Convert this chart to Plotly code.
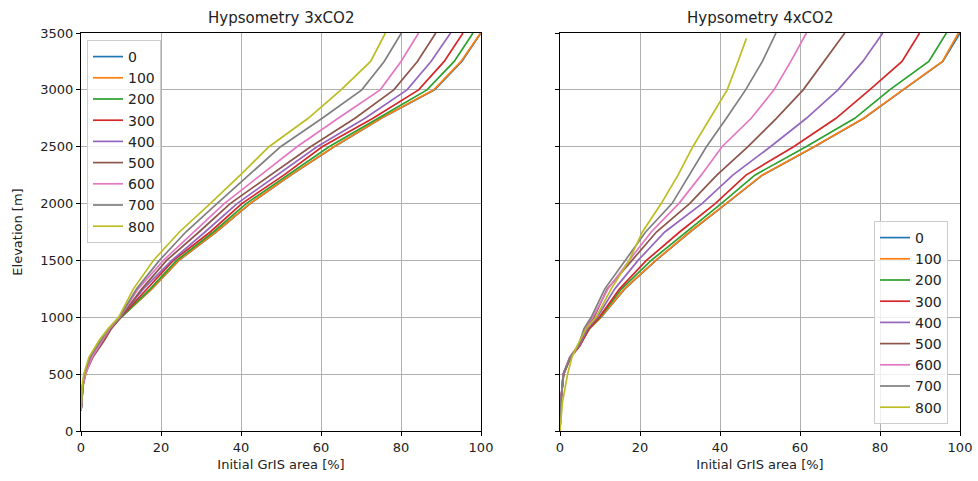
import plotly.graph_objects as go

# ---------------- data ----------------
series_names = ["0", "100", "200", "300", "400", "500", "600", "700", "800"]
colors = ["#1f77b4", "#ff7f0e", "#2ca02c", "#d62728", "#9467bd",
          "#8c564b", "#e377c2", "#7f7f7f", "#bcbd22"]

x_ticks = [0, 20, 40, 60, 80, 100]
y_ticks = [0, 500, 1000, 1500, 2000, 2500, 3000, 3500]

# Hypsometry 3xCO2 : elevation [m] vs cumulative initial GrIS area [%]
elev_3x = [180, 250, 400, 500, 650, 800, 900, 1000, 1250, 1500, 1750, 2000, 2250, 2500, 2750, 3000, 3250, 3500]
a3_0   = [0, 0.2, 0.5, 1.1, 2.4, 5.3, 7.3, 10.0, 17.7, 24.5, 33.8, 42.3, 52.5, 63.3, 75.1, 88.4, 95.2, 100.0]
a3_100 = [0, 0.2, 0.5, 1.2, 2.2, 5.3, 7.3, 10.0, 17.7, 24.4, 33.7, 42.2, 52.4, 63.2, 75.0, 88.2, 95.0, 99.9]
a3_200 = [0, 0.2, 0.4, 0.9, 2.5, 5.4, 7.4, 10.0, 17.3, 23.9, 33.1, 41.3, 51.5, 62.0, 74.3, 86.5, 93.3, 98.0]
a3_300 = [0, 0.2, 0.4, 0.9, 2.6, 5.5, 7.4, 9.9, 16.4, 23.1, 32.3, 40.2, 50.7, 60.3, 73.0, 84.4, 90.8, 95.5]
a3_400 = [0, 0.2, 0.4, 0.9, 2.5, 5.5, 7.3, 9.8, 15.6, 22.7, 31.0, 39.0, 49.0, 59.0, 71.0, 81.5, 87.5, 92.4]
a3_500 = [0, 0.2, 0.5, 1.0, 3.0, 5.9, 7.6, 9.9, 15.2, 21.4, 29.5, 37.3, 47.4, 57.4, 68.5, 78.2, 84.1, 88.7]
a3_600 = [0, 0.2, 0.5, 1.1, 2.8, 5.4, 7.2, 9.7, 14.3, 20.6, 28.1, 35.8, 44.9, 54.0, 64.3, 74.8, 80.0, 84.4]
a3_700 = [0, 0.2, 0.4, 0.8, 2.2, 4.9, 6.9, 9.6, 13.9, 19.6, 26.2, 34.0, 41.9, 49.9, 60.3, 70.2, 75.8, 80.1]
a3_800 = [0, 0.1, 0.3, 0.7, 2.0, 4.6, 6.8, 9.4, 13.1, 18.1, 24.6, 32.3, 39.8, 47.0, 56.8, 65.0, 72.4, 76.1]

# Hypsometry 4xCO2
elev_4x = [0, 100, 250, 500, 650, 750, 900, 1000, 1250, 1500, 1750, 2000, 2250, 2500, 2750, 3000, 3250, 3500]
a4_0   = [0, 0.05, 0.2, 0.9, 2.6, 4.8, 7.4, 10.3, 16.2, 24.0, 32.5, 41.6, 50.6, 63.6, 76.0, 85.8, 95.7, 100.0]
a4_100 = [0, 0.05, 0.2, 0.9, 2.6, 4.8, 7.4, 10.2, 16.1, 23.9, 32.4, 41.5, 50.5, 63.5, 75.9, 85.7, 95.6, 99.6]
a4_200 = [0, 0.05, 0.2, 0.9, 2.6, 4.8, 7.3, 10.0, 15.4, 22.8, 31.6, 40.3, 48.7, 61.5, 73.7, 82.4, 92.2, 96.6]
a4_300 = [0, 0.05, 0.2, 0.9, 2.7, 5.0, 7.2, 9.8, 14.9, 21.6, 29.9, 38.8, 46.5, 58.4, 69.0, 77.4, 85.5, 89.9]
a4_400 = [0, 0.05, 0.2, 0.8, 2.6, 4.8, 6.9, 9.3, 13.7, 19.5, 26.2, 35.5, 43.2, 52.6, 61.6, 69.5, 75.7, 80.7]
a4_500 = [0, 0.05, 0.2, 0.8, 2.5, 4.6, 6.4, 8.5, 11.8, 18.0, 24.1, 32.4, 39.2, 47.0, 54.1, 60.8, 66.0, 71.2]
a4_600 = [0, 0.05, 0.2, 0.8, 2.4, 4.5, 6.2, 8.2, 12.0, 17.3, 22.8, 29.7, 35.3, 40.5, 47.8, 53.5, 57.7, 61.6]
a4_700 = [0, 0.05, 0.2, 0.8, 2.5, 4.6, 6.0, 7.8, 11.2, 16.3, 21.4, 28.0, 32.4, 36.6, 41.6, 46.4, 50.6, 54.0]
elev_4x_800 = [0, 100, 250, 500, 650, 750, 900, 1000, 1250, 1500, 1750, 2000, 2250, 2500, 2750, 3000, 3250, 3453]
a4_800 = [0, 0.2, 0.6, 1.9, 3.0, 4.3, 6.5, 9.0, 12.8, 17.3, 20.6, 25.3, 29.5, 33.2, 37.4, 41.8, 44.5, 46.6]

areas_3x = [a3_0, a3_100, a3_200, a3_300, a3_400, a3_500, a3_600, a3_700, a3_800]
areas_4x = [a4_0, a4_100, a4_200, a4_300, a4_400, a4_500, a4_600, a4_700, a4_800]
elevs_4x = [elev_4x] * 8 + [elev_4x_800]

# ---------------- figure ----------------
FONT = "DejaVu Sans"
fig = go.Figure()

for name, col, xs in zip(series_names, colors, areas_3x):
    fig.add_trace(go.Scatter(x=xs, y=elev_3x, mode="lines", name=name,
                             line=dict(color=col, width=1.7),
                             xaxis="x", yaxis="y", legend="legend"))
for name, col, xs, ys in zip(series_names, colors, areas_4x, elevs_4x):
    fig.add_trace(go.Scatter(x=xs, y=ys, mode="lines", name=name,
                             line=dict(color=col, width=1.7),
                             xaxis="x2", yaxis="y2", legend="legend2"))

W, H = 978, 481
def px(v):
    return v / W
def py(v):
    return 1 - v / H

axis_common = dict(showline=True, linecolor="black", linewidth=1, mirror=True,
                   showgrid=True, gridcolor="#b0b0b0", gridwidth=0.8,
                   ticks="outside", ticklen=4, tickcolor="black", tickwidth=1,
                   zeroline=False, automargin=False,
                   tickfont=dict(family=FONT, size=13, color="#222"))

fig.update_layout(
    width=W, height=H,
    margin=dict(l=0, r=0, t=0, b=0, autoexpand=False),
    plot_bgcolor="white", paper_bgcolor="white",
    font=dict(family=FONT, size=13, color="#222"),
    xaxis=dict(domain=[px(81), px(481)], range=[0, 100], tickvals=x_ticks,
               title=dict(text="Initial GrIS area [%]", font=dict(family=FONT, size=13), standoff=6),
               anchor="y", **axis_common),
    yaxis=dict(domain=[py(431), py(33)], range=[0, 3500], tickvals=y_ticks,
               title=dict(text="Elevation [m]", font=dict(family=FONT, size=13), standoff=14),
               anchor="x", **axis_common),
    xaxis2=dict(domain=[px(560), px(960)], range=[0, 100], tickvals=x_ticks,
                title=dict(text="Initial GrIS area [%]", font=dict(family=FONT, size=13), standoff=6),
                anchor="y2", **axis_common),
    yaxis2=dict(domain=[py(431), py(33)], range=[0, 3500], tickvals=y_ticks,
                showticklabels=False, anchor="x2", **axis_common),
    legend=dict(x=px(87), y=py(40), xanchor="left", yanchor="top",
                bgcolor="rgba(255,255,255,0.8)", bordercolor="#cccccc", borderwidth=1,
                font=dict(family=FONT, size=14, color="#222"), itemwidth=30,
                tracegroupgap=0),
    legend2=dict(x=px(874), y=py(424), xanchor="left", yanchor="bottom",
                 bgcolor="rgba(255,255,255,0.8)", bordercolor="#cccccc", borderwidth=1,
                 font=dict(family=FONT, size=14, color="#222"), itemwidth=30,
                 tracegroupgap=0),
    annotations=[
        dict(text="Hypsometry 3xCO2", x=px(281), y=py(18), xref="paper", yref="paper",
             showarrow=False, xanchor="center", yanchor="middle",
             font=dict(family=FONT, size=15, color="#222")),
        dict(text="Hypsometry 4xCO2", x=px(760), y=py(18), xref="paper", yref="paper",
             showarrow=False, xanchor="center", yanchor="middle",
             font=dict(family=FONT, size=15, color="#222")),
    ],
)

fig.write_html("out.html")
